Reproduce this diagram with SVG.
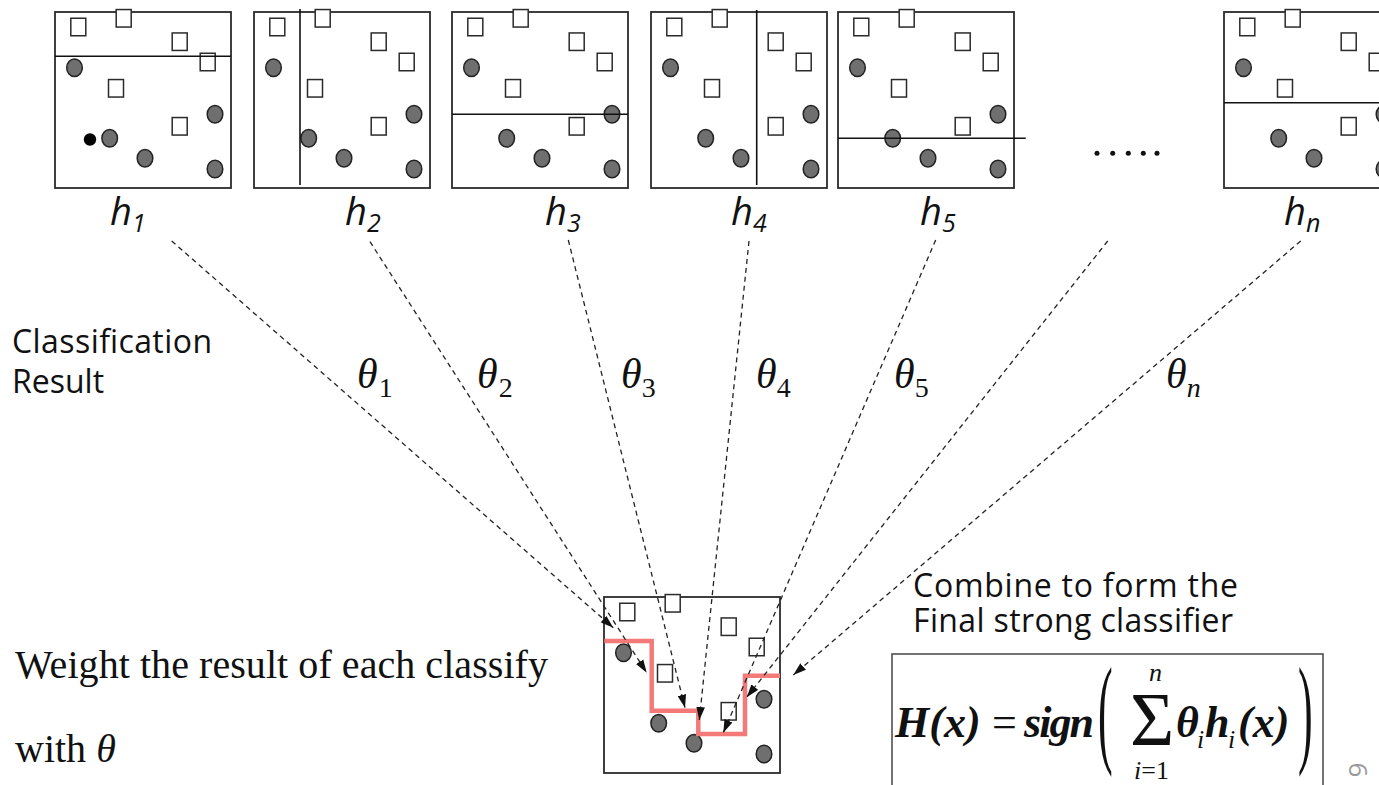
<svg xmlns="http://www.w3.org/2000/svg" width="1379" height="785" viewBox="0 0 1379 785">
<defs>
<style>
.box{fill:#fff;stroke:#2b2b2b;stroke-width:1.8}
.sq{fill:#fff;stroke:#2b2b2b;stroke-width:1.5}
.ci{fill:#6f6f6f;stroke:#222;stroke-width:1.5}
.split{stroke:#111;stroke-width:1.6;fill:none}
.conn{stroke:#222;stroke-width:1.3;stroke-dasharray:5 4;fill:none;marker-end:url(#ah)}
.hl{font-family:"Open Sans","Liberation Sans",sans-serif;font-style:italic;font-size:38px;fill:#111}
.hs{font-size:25px}
.th{font-family:"Liberation Serif","Times New Roman",serif;font-style:italic;font-size:42px;fill:#111}
.ts{font-style:normal;font-size:28px}
.tn{font-style:italic;font-size:28px}
.sans{font-family:"Open Sans","Liberation Sans",sans-serif;font-size:32px;fill:#111}
.serif{font-family:"Liberation Serif","Times New Roman",serif;font-size:40px;fill:#111}
.fm{font-family:"Liberation Serif","Times New Roman",serif;font-size:44px;fill:#111}
.bi{font-weight:bold;font-style:italic}
.it{font-style:italic}
.sm{font-size:26px}
.big{font-size:76px}
.red{fill:none;stroke:#f47a7a;stroke-width:4.5}
</style>
<marker id="ah" viewBox="0 0 12 8" refX="12" refY="4" markerWidth="13" markerHeight="9" markerUnits="userSpaceOnUse" orient="auto">
<path d="M0,0 L12,4 L0,8 z" fill="#111"/>
</marker>
<g id="pts">
<rect class="sq" x="15.8" y="6.25" width="15" height="17.5"/>
<rect class="sq" x="61.2" y="-2.45" width="15" height="17.5"/>
<rect class="sq" x="117.2" y="20.95" width="15" height="17.5"/>
<rect class="sq" x="145.2" y="41.25" width="15" height="17.5"/>
<rect class="sq" x="53.5" y="67.55" width="15" height="17.5"/>
<rect class="sq" x="117.2" y="105.55" width="15" height="17.5"/>
<ellipse class="ci" cx="19.5" cy="55.8" rx="7.8" ry="8.8"/>
<ellipse class="ci" cx="160" cy="102.3" rx="7.8" ry="8.8"/>
<ellipse class="ci" cx="54.7" cy="126.3" rx="7.8" ry="8.8"/>
<ellipse class="ci" cx="90" cy="146.3" rx="7.8" ry="8.8"/>
<ellipse class="ci" cx="160" cy="157" rx="7.8" ry="8.8"/>
</g>
</defs>
<rect width="1379" height="785" fill="#fff"/>

<g id="h1">
<rect class="box" x="55" y="12" width="176" height="176"/>
<use href="#pts" x="55" y="12"/>
<circle cx="90" cy="139.5" r="6.2" fill="#000"/>
<line class="split" x1="55" y1="56.3" x2="231" y2="56.3"/>
<text class="hl" x="110" y="225">h<tspan class="hs" dy="7">1</tspan></text>
</g>
<g id="h2">
<rect class="box" x="254" y="12" width="176" height="176"/>
<use href="#pts" x="254" y="12"/>
<line class="split" x1="300" y1="9" x2="300" y2="185"/>
<text class="hl" x="345" y="225">h<tspan class="hs" dy="7">2</tspan></text>
</g>
<g id="h3">
<rect class="box" x="452" y="12" width="176" height="176"/>
<use href="#pts" x="452" y="12"/>
<line class="split" x1="452" y1="114.3" x2="628" y2="114.3"/>
<text class="hl" x="545" y="225">h<tspan class="hs" dy="7">3</tspan></text>
</g>
<g id="h4">
<rect class="box" x="651" y="12" width="176" height="176"/>
<use href="#pts" x="651" y="12"/>
<line class="split" x1="756.7" y1="10" x2="756.7" y2="185"/>
<text class="hl" x="731" y="225">h<tspan class="hs" dy="7">4</tspan></text>
</g>
<g id="h5">
<rect class="box" x="838" y="12" width="176" height="176"/>
<use href="#pts" x="838" y="12"/>
<line class="split" x1="838" y1="138.3" x2="1025.7" y2="138.3"/>
<text class="hl" x="920" y="225">h<tspan class="hs" dy="7">5</tspan></text>
</g>
<g id="ellipsis" fill="#111">
<circle cx="1097" cy="153.3" r="2.5"/>
<circle cx="1112.7" cy="153.3" r="2.5"/>
<circle cx="1128.3" cy="153.3" r="2.5"/>
<circle cx="1143.3" cy="153.3" r="2.5"/>
<circle cx="1157" cy="153.3" r="2.5"/>
</g>
<g id="hn">
<rect class="box" x="1224" y="12" width="176" height="176"/>
<use href="#pts" x="1224" y="12"/>
<line class="split" x1="1224" y1="102.7" x2="1400" y2="102.7"/>
<text class="hl" x="1284" y="225">h<tspan class="hs" dy="7">n</tspan></text>
</g>

<g id="final">
<rect class="box" x="604" y="597" width="176" height="176"/>
<use href="#pts" x="604" y="597"/>
<polyline class="red" points="604.3,641 651.7,641 651.7,710.7 698.3,710.7 698.3,734 745,734 745,675.7 780,675.7"/>
</g>

<g id="connectors">
<line class="conn" x1="171.7" y1="241" x2="613.3" y2="627.7"/>
<line class="conn" x1="370" y1="241.7" x2="646.7" y2="672.7"/>
<line class="conn" x1="568.3" y1="240" x2="685" y2="707.7"/>
<line class="conn" x1="749" y1="241" x2="699.3" y2="720"/>
<line class="conn" x1="935.7" y1="240" x2="723.3" y2="732.7"/>
<line class="conn" x1="1107.7" y1="241" x2="746.7" y2="697.3"/>
<line class="conn" x1="1300.7" y1="241" x2="793.3" y2="675"/>
</g>

<g id="weights">
<text class="th" x="357" y="388">θ<tspan class="ts" dx="1" dy="9">1</tspan></text>
<text class="th" x="477" y="388">θ<tspan class="ts" dx="1" dy="9">2</tspan></text>
<text class="th" x="621" y="388">θ<tspan class="ts" dx="0" dy="9">3</tspan></text>
<text class="th" x="756" y="388">θ<tspan class="ts" dx="0" dy="9">4</tspan></text>
<text class="th" x="894" y="388">θ<tspan class="ts" dx="0" dy="9">5</tspan></text>
<text class="th" x="1166" y="388">θ<tspan class="tn" dx="0" dy="9">n</tspan></text>
</g>

<g id="labels">
<text class="sans" x="12" y="353" textLength="200">Classification</text>
<text class="sans" x="12" y="393">Result</text>
<text class="sans" x="913" y="597" textLength="325">Combine to form the</text>
<text class="sans" x="913" y="632" textLength="320">Final strong classifier</text>
<text class="serif" x="15" y="678" textLength="533">Weight the result of each classify</text>
<text class="serif" x="15" y="762">with <tspan class="it">θ</tspan></text>
</g>

<g id="formula">
<rect x="892" y="654" width="431" height="150" fill="none" stroke="#444" stroke-width="1.5"/>
<text class="fm bi" x="895" y="737">H(x)</text>
<text class="fm" x="992" y="737">=</text>
<text class="fm bi" x="1024" y="737" textLength="70">sign</text>
<text class="fm" transform="translate(1098,751) scale(1,2.75)">(</text>
<text class="fm big" x="1130" y="745">Σ</text>
<text class="fm it sm" x="1149" y="681">n</text>
<text class="fm sm" x="1134" y="779"><tspan class="it">i</tspan>=1</text>
<text class="fm bi" x="1176" y="737">θ</text>
<text class="fm it sm" x="1197" y="748">i</text>
<text class="fm bi" x="1205" y="737">h</text>
<text class="fm it sm" x="1228" y="748">i</text>
<text class="fm bi" x="1238" y="737">(x)</text>
<text class="fm" transform="translate(1298,751) scale(1,2.75)">)</text>
</g>

<text transform="translate(1358,770) rotate(90)" text-anchor="middle" dy="0.35em" font-family="Open Sans, Liberation Sans, sans-serif" font-size="26" fill="#999">6</text>
</svg>
